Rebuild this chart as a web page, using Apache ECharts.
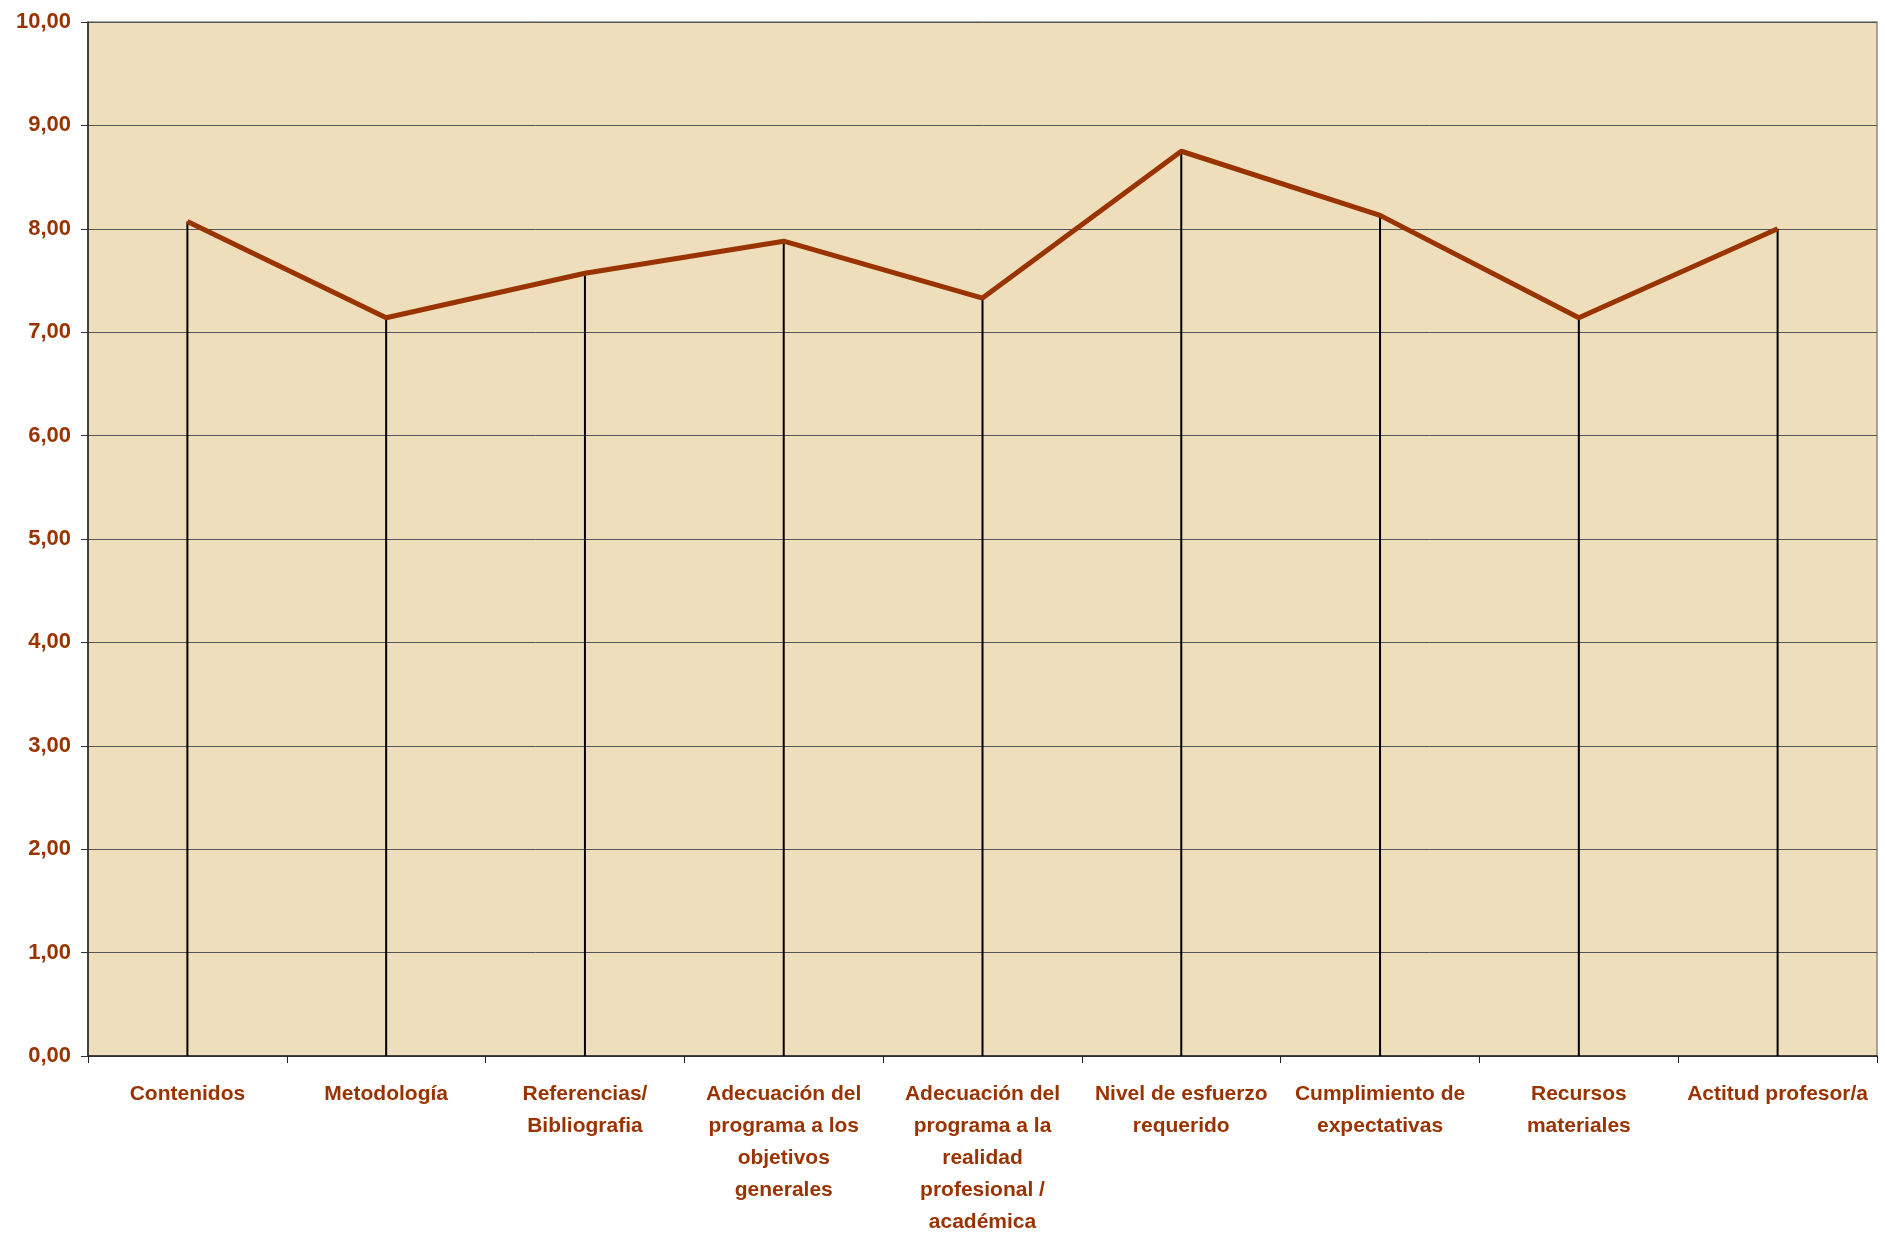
<!DOCTYPE html>
<html><head><meta charset="utf-8">
<script src="https://cdn.jsdelivr.net/npm/echarts@6/dist/echarts.min.js"></script>
<style>html,body{margin:0;padding:0;background:#fff}#c{width:1885px;height:1238px}</style>
</head><body><div id="c"></div>
<script>
var categories = [
  "Contenidos",
  "Metodología",
  "Referencias/\nBibliografia",
  "Adecuación del\nprograma a los\nobjetivos\ngenerales",
  "Adecuación del\nprograma a la\nrealidad\nprofesional /\nacadémica",
  "Nivel de esfuerzo\nrequerido",
  "Cumplimiento de\nexpectativas",
  "Recursos\nmateriales",
  "Actitud profesor/a"
];
var values = [8.07, 7.14, 7.57, 7.88, 7.33, 8.75, 8.13, 7.14, 8.00];
var yMin = 0, yMax = 10, yStep = 1;

function hasFont(name){
  var c=document.createElement('canvas').getContext('2d');
  var t='Adecuación del programa 0123456789';
  c.font='bold 40px monospace'; var a=c.measureText(t).width;
  c.font='bold 40px "'+name+'", monospace'; var b=c.measureText(t).width;
  return Math.abs(a-b)>1;
}
var narrow = hasFont('Liberation Sans Narrow');
var fam = narrow ? '"Liberation Sans Narrow", sans-serif' : '"Liberation Sans", Arial, sans-serif';
var fsX = narrow ? 25 : 21;
var fsY = narrow ? 26 : 22;
var brown = '#993300';

var chart = echarts.init(document.getElementById('c'));
chart.setOption({
  animation:false,
  backgroundColor:'#ffffff',
  grid:{left:88,right:8,top:22,bottom:180,show:true,backgroundColor:'#EFDEBB',borderColor:'#8c8c8c',borderWidth:1.5},
  xAxis:{
    type:'category', data:categories, boundaryGap:true,
    axisLine:{show:true,lineStyle:{color:'#222',width:1.5}},
    axisTick:{show:true,length:7,alignWithLabel:false,lineStyle:{color:'#222',width:1}},
    axisLabel:{interval:0,margin:22,color:brown,fontFamily:fam,fontWeight:'bold',fontSize:fsX,lineHeight:32,align:'center'},
    splitLine:{show:false}
  },
  yAxis:{
    type:'value', min:yMin, max:yMax, interval:yStep,
    axisLine:{show:true,lineStyle:{color:'#222',width:1.5}},
    axisTick:{show:true,length:7,inside:false,lineStyle:{color:'#333'}},
    axisLabel:{margin:17,color:brown,fontFamily:fam,fontWeight:'bold',fontSize:fsY,
      formatter:function(v){return v.toFixed(2).replace('.',',');}},
    splitLine:{show:true,lineStyle:{color:'#555',width:1}}
  },
  series:[
    {type:'bar',data:values,barWidth:2,itemStyle:{color:'#000'},z:2,silent:true},
    {type:'line',data:values,symbol:'none',lineStyle:{color:brown,width:5},z:3,silent:true}
  ]
});
</script></body></html>
